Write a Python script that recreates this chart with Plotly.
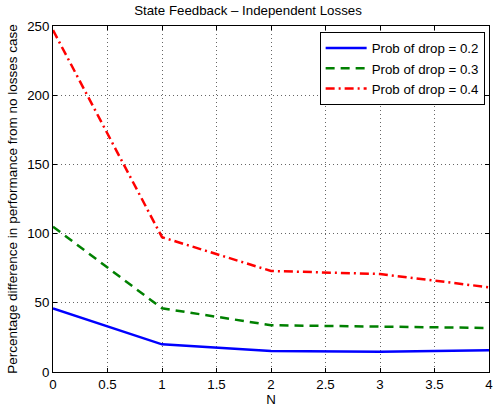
import plotly.graph_objects as go

N = [0, 1, 2, 3, 4]
p02 = [46, 20, 15.2, 14.6, 15.7]
p03 = [105, 46, 33.8, 33.0, 31.8]
p04 = [247, 97.4, 73, 70.8, 61.2]
names = ["Prob of drop = 0.2", "Prob of drop = 0.3", "Prob of drop = 0.4"]

FS = 13.3
fig = go.Figure()
fig.add_trace(go.Scatter(x=N, y=p02, mode="lines", name=names[0],
                         line=dict(color="#0000ff", width=2.5, dash="solid")))
fig.add_trace(go.Scatter(x=N, y=p03, mode="lines", name=names[1],
                         line=dict(color="#008000", width=2.5, dash="9px,6px")))
fig.add_trace(go.Scatter(x=N, y=p04, mode="lines", name=names[2],
                         line=dict(color="#ff0000", width=2.5, dash="9px,4px,2px,4px")))

axis_common = dict(showline=True, linecolor="black", linewidth=1, mirror="ticks",
                   ticks="inside", ticklen=4, tickcolor="black",
                   showgrid=True, gridcolor="rgba(0,0,0,0.6)", griddash="1px,3px", gridwidth=1,
                   zeroline=False, tickfont=dict(size=FS, color="black"),
                   ticklabeloverflow="allow")

fig.update_layout(
    width=496, height=407,
    margin=dict(l=53, r=3, t=26, b=35),
    paper_bgcolor="white", plot_bgcolor="white",
    font=dict(family="Liberation Sans, Arial, sans-serif", size=FS, color="black"),
    title=dict(text="State Feedback – Independent Losses", x=0.5, xanchor="center",
               y=0.975, yanchor="middle", font=dict(size=FS)),
    xaxis=dict(range=[0, 4], dtick=0.5,
               title=dict(text="N", standoff=2, font=dict(size=FS)), **axis_common),
    yaxis=dict(range=[0, 250], dtick=50,
               title=dict(text="Percentage difference in performance from no losses case",
                          standoff=6, font=dict(size=13.5)),
               **axis_common),
    legend=dict(x=0.99, xanchor="right", y=0.983, yanchor="top",
                bgcolor="white", bordercolor="black", borderwidth=1,
                font=dict(size=FS, family="Liberation Sans, Arial, sans-serif"),
                tracegroupgap=0, itemwidth=41),
    showlegend=True,
)

fig.write_html("out.html", config={"displayModeBar": False},
               post_script="document.body.style.margin='0';document.body.style.overflow='hidden';")
